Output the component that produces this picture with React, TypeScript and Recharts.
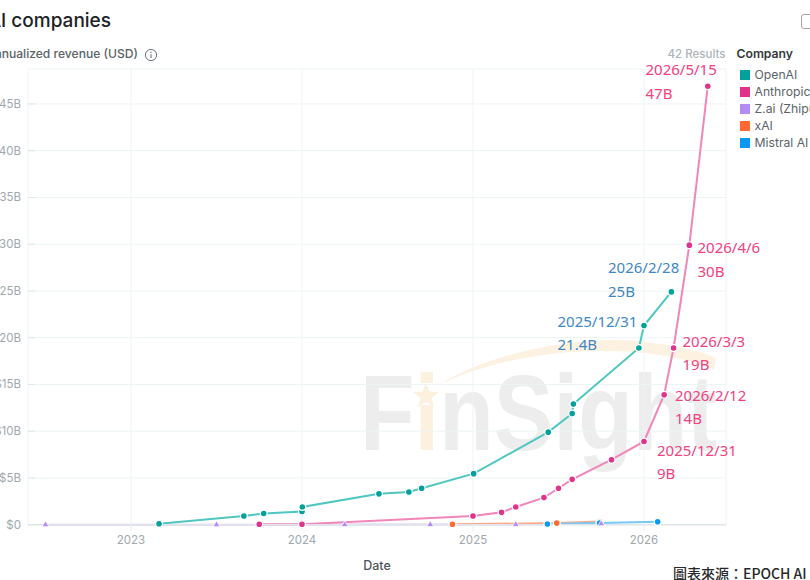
import React from 'react';
import { LineChart, Line, XAxis, YAxis, CartesianGrid, Legend } from 'recharts';

const yearTicks = [2023, 2024, 2025, 2026];
const valueTicks = [0, 5, 10, 15, 20, 25, 30, 35, 40, 45];
const companies = ['OpenAI', 'Anthropic', 'Z.ai (Zhipu)', 'xAI', 'Mistral AI'];
const swatches = ['#00a19b', '#e0348c', '#b48cf5', '#ff6a33', '#0a98f2'];

const openai = [
  { x: 2023.164, y: 0.1 }, { x: 2023.66, y: 0.93 }, { x: 2023.776, y: 1.2 }, { x: 2024.0, y: 1.42 },
  { x: 2024.002, y: 1.9 }, { x: 2024.45, y: 3.3 }, { x: 2024.625, y: 3.5 }, { x: 2024.7, y: 3.9 },
  { x: 2025.004, y: 5.46 }, { x: 2025.44, y: 9.9 }, { x: 2025.58, y: 11.9 }, { x: 2025.587, y: 12.9 },
  { x: 2025.97, y: 18.9 }, { x: 2026.0, y: 21.3 }, { x: 2026.16, y: 24.9 },
];
const anthropic = [
  { x: 2023.75, y: 0.05 }, { x: 2024.0, y: 0.05 }, { x: 2025.0, y: 0.93 },
  { x: 2025.167, y: 1.32 }, { x: 2025.25, y: 1.9 }, { x: 2025.415, y: 2.9 }, { x: 2025.5, y: 3.9 },
  { x: 2025.58, y: 4.85 }, { x: 2025.81, y: 6.95 }, { x: 2026.0, y: 8.9 }, { x: 2026.118, y: 13.9 },
  { x: 2026.173, y: 18.9 }, { x: 2026.265, y: 29.9 }, { x: 2026.373, y: 46.9 },
];
const zai = [
  { x: 2022.5, y: 0 }, { x: 2023.5, y: 0 }, { x: 2024.25, y: 0.01 }, { x: 2024.75, y: 0.02 },
  { x: 2025.25, y: 0.03 }, { x: 2025.75, y: 0.1 },
];
const xai = [{ x: 2024.88, y: 0.05 }, { x: 2025.49, y: 0.17 }, { x: 2025.74, y: 0.35 }];
const mistral = [{ x: 2025.435, y: 0.08 }, { x: 2025.74, y: 0.18 }, { x: 2026.08, y: 0.32 }];

const notes = [
  { a: '2026/5/15', b: '47B', c: '#f0427f', left: 645.5, t1: 70, t2: 93.5 },
  { a: '2026/4/6', b: '30B', c: '#f0427f', left: 697.5, t1: 248, t2: 272 },
  { a: '2026/2/28', b: '25B', c: '#3f87c5', left: 608, t1: 267.5, t2: 291.5 },
  { a: '2025/12/31', b: '21.4B', c: '#3f87c5', left: 557.5, t1: 321.5, t2: 345 },
  { a: '2026/3/3', b: '19B', c: '#f0427f', left: 682.5, t1: 341.5, t2: 365 },
  { a: '2026/2/12', b: '14B', c: '#f0427f', left: 675, t1: 395.5, t2: 419 },
  { a: '2025/12/31', b: '9B', c: '#f0427f', left: 657, t1: 450.5, t2: 474 },
];

const UI = 'Inter, "Noto Sans", sans-serif';
const W = 810, H = 580, LEFT = 28, RIGHT = 84, TOP = 69, XH = 54.3;

const abs = (s: React.CSSProperties): React.CSSProperties => ({ position: 'absolute', whiteSpace: 'nowrap', lineHeight: 1, ...s });

const YTick = (p: any) => (
  <g>
    <line x1={LEFT} x2={LEFT + 7} y1={p.y} y2={p.y} stroke="#dfe6e8" />
    <text x={21} y={p.y} dy={4} textAnchor="end" fontSize={11.5} fontFamily={UI} fill="#9ea8ad">
      {p.payload.value === 0 ? '$0' : `$${p.payload.value}B`}
    </text>
  </g>
);

const Tri = (p: any) => (
  <path key={p.index} d={`M${p.cx} ${p.cy - 3.8}L${p.cx + 3.6} ${p.cy + 2}L${p.cx - 3.6} ${p.cy + 2}Z`} fill="#b48cf5" stroke="#fff" strokeWidth={0.8} />
);

const dot = (c: string) => ({ r: 3.4, fill: c, stroke: '#fff', strokeWidth: 1.2 });

const LegendBox = () => (
  <div style={{ position: 'absolute', left: 0, top: 0 }}>
    {companies.map((n, i) => (
      <React.Fragment key={n}>
        <div style={{ position: 'absolute', left: 0, top: 17 * i, width: 10, height: 10, background: swatches[i] }} />
        <div style={abs({ left: 15, top: 17 * i - 1, fontSize: 12.2, fontFamily: UI, color: '#5b6368' })}>{n}</div>
      </React.Fragment>
    ))}
  </div>
);

export default function App() {
  return (
    <div style={{ position: 'absolute', left: 0, top: 0, width: W, height: H, overflow: 'hidden', background: '#fff' }}>
      <svg width={W} height={H} style={{ position: 'absolute', left: 0, top: 0 }}>
        <text x={360} y={450} fontSize={107} fontWeight={700} fontFamily="Liberation Sans" fill="#ededed" textLength={357} lengthAdjust="spacingAndGlyphs">
          F<tspan fill="#fcf0df">i</tspan>nSight
        </text>
        <rect x={414} y={385} width={21} height={20} fill="#fff" />
        <path d="M426 383l3.5 8.5 9.5.5-7.5 6 2.5 9-8-5-8 5 2.5-9-7.5-6 9.5-.5z" fill="#fcf0df" />
        <path d="M438 385C500 348 580 339 620 340C660 342 700 350 716 358L714 370C680 355 640 351 600 351C540 351 480 365 438 385Z" fill="#fdf2e2" />
      </svg>

      <div style={{ position: 'absolute', left: 0, top: 0 }}>
        <LineChart width={W} height={H} margin={{ top: TOP, right: RIGHT, left: LEFT - 1, bottom: 0 }} style={{ background: 'transparent' }}>
          <CartesianGrid stroke="#edf4f5" strokeWidth={1} />
          <XAxis
            type="number"
            dataKey="x"
            domain={[2022.3977, 2026.4795]}
            ticks={yearTicks}
            tickFormatter={(v: number) => String(v)}
            axisLine={{ stroke: '#dfe6e9', strokeWidth: 1.5 }}
            tickLine={{ stroke: '#e6eef0' }}
            tickSize={6}
            tickMargin={5}
            tick={{ fontSize: 11.5, fontFamily: UI, fill: '#9ea8ad' }}
            height={XH}
            label={{ value: 'Date', position: 'insideBottom', offset: 9, fontSize: 12.5, fontWeight: 500, fontFamily: UI, fill: '#4e565b' }}
          />
          <YAxis type="number" dataKey="y" domain={[0, 48.74]} ticks={valueTicks} width={1} axisLine={false} tickLine={false} tick={(p: any) => <YTick {...p} />} interval={0} />
          <Line data={zai} dataKey="y" name="Z.ai (Zhipu)" type="linear" stroke="#d7c9f4" strokeWidth={2} dot={false} isAnimationActive={false} legendType="none" />
          <Line data={openai} dataKey="y" name="OpenAI" type="linear" stroke="#4fc6c0" strokeWidth={2} dot={dot('#00a19b')} isAnimationActive={false} legendType="none" />
          <Line data={anthropic} dataKey="y" name="Anthropic" type="linear" stroke="#f285b9" strokeWidth={2} dot={dot('#e0348c')} isAnimationActive={false} legendType="none" />
          <Line data={xai} dataKey="y" name="xAI" type="linear" stroke="#fba98b" strokeWidth={2} dot={dot('#ff6a33')} isAnimationActive={false} legendType="none" />
          <Line data={mistral} dataKey="y" name="Mistral AI" type="linear" stroke="#76c9f8" strokeWidth={2} dot={dot('#0a98f2')} isAnimationActive={false} legendType="none" />
          <Line data={zai} dataKey="y" name="Z.ai (Zhipu) points" type="linear" stroke="none" dot={Tri} isAnimationActive={false} legendType="none" />
          <Legend content={<LegendBox />} layout="vertical" wrapperStyle={{ position: 'absolute', left: 739.5, top: 70, width: 1, height: 1 }} />
        </LineChart>
      </div>

      <div style={abs({ right: W - 111, top: 11, fontSize: 19, fontWeight: 500, fontFamily: UI, color: '#1d2226' })}>AI companies</div>
      <div style={abs({ right: W - 138, top: 48, fontSize: 12.1, fontWeight: 500, fontFamily: UI, color: '#5b6368' })}>Annualized revenue (USD)</div>
      <svg width={14} height={14} style={{ position: 'absolute', left: 143.5, top: 47.5 }}>
        <circle cx={7} cy={7} r={5.6} fill="none" stroke="#6d757a" strokeWidth={1} />
        <line x1={7} x2={7} y1={6.2} y2={10} stroke="#6d757a" strokeWidth={1.1} />
        <circle cx={7} cy={4.3} r={0.7} fill="#6d757a" />
      </svg>
      <div style={abs({ right: W - 725.5, top: 48.5, fontSize: 11.5, fontFamily: UI, fontWeight: 500, color: '#abb4b9' })}>42 Results</div>
      <div style={abs({ left: 736.5, top: 48, fontSize: 12.2, fontFamily: UI, fontWeight: 600, color: '#33393d' })}>Company</div>
      <div style={{ position: 'absolute', left: 800.5, top: 13.5, width: 16, height: 15, boxSizing: 'border-box', border: '1.5px solid #a5a5a5', borderRadius: 3 }} />

      {notes.map((n, i) => (
        <React.Fragment key={i}>
          <div style={abs({ left: n.left, top: n.t1 - 8, fontSize: 15, fontFamily: '"Noto Sans"', color: n.c })}>{n.a}</div>
          <div style={abs({ left: n.left, top: n.t2 - 8, fontSize: 15, fontFamily: '"Noto Sans"', color: n.c })}>{n.b}</div>
        </React.Fragment>
      ))}
      <div style={abs({ left: 673, top: 565.5, fontSize: 14, fontWeight: 500, fontFamily: '"Noto Sans CJK TC"', color: '#26292b' })}>圖表來源：EPOCH AI</div>
    </div>
  );
}
